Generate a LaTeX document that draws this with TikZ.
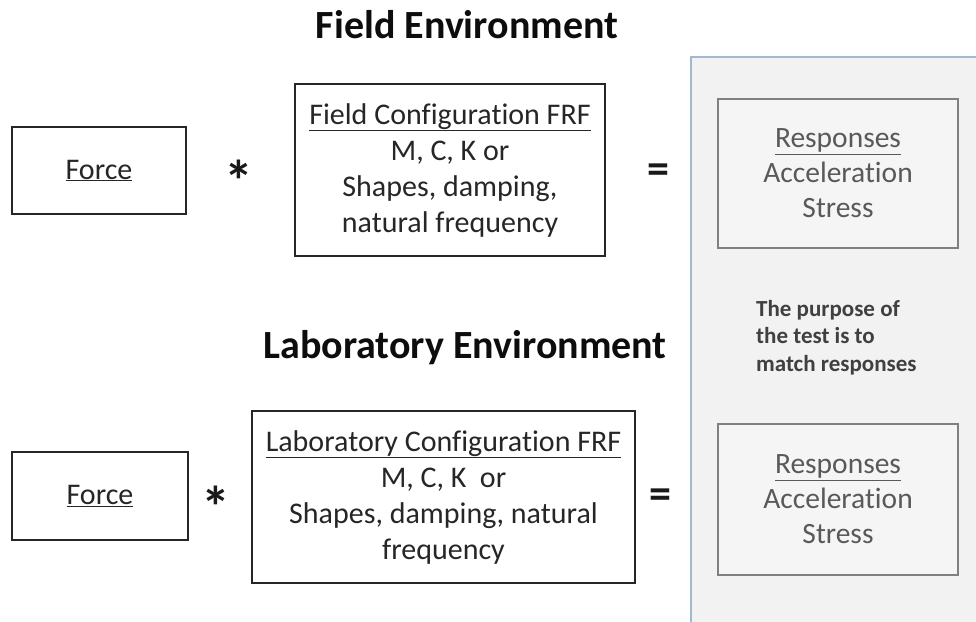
\documentclass[tikz,border=0pt]{standalone}
\usepackage{fontspec}
\setmainfont{Carlito}[Ligatures={NoCommon}]
\begin{document}
\begin{tikzpicture}[x=1pt,y=-1pt,
  box/.style={draw=black!85, line width=1.2pt, inner sep=0pt, align=center, text=black!85,
    font=\fontsize{30}{36}\selectfont},
  respbox/.style={draw=black!50, line width=1.2pt, fill=white!96!black, inner sep=0pt, align=center, text=black!65,
    font=\fontsize{29.5}{35}\selectfont},
  title/.style={anchor=base, font=\bfseries\fontsize{40}{44}\selectfont, text=black!95},
  op/.style={font=\bfseries\fontsize{44}{46}\selectfont, text=black!90, inner sep=0pt},
  ast/.style={font=\bfseries\fontsize{58}{60}\selectfont, text=black!90, inner sep=0pt},
  note/.style={anchor=north west, align=left, inner sep=0pt, text=black!75,
    font=\bfseries\fontsize{23}{27.5}\selectfont}]
\useasboundingbox (0,0) rectangle (976,621);
% right panel
\fill[white!95!black] (691,57) rectangle (980,625);
\draw[color={rgb,255:red,160;green,184;blue,208}, line width=1.5pt] (691,625) -- (691,57) -- (980,57);
% titles
\node[title] (t1) at (467,38) {Field Environment};
\node[title] (t2) at (465,358) {Laboratory Environment};
% field row
\node[box, minimum width=174, minimum height=87] (f1) at (99,170.5) {\underline{Force}};
\node[ast] (s1) at (239,181) {*};
\node[box, minimum width=310, minimum height=172] (c1) at (450,170) {\underline{Field Configuration FRF}\\M, C, K or\\Shapes, damping,\\natural frequency};
\node[op] (e1) at (658,174) {=};
\node[respbox, minimum width=240, minimum height=149] (r1) at (838,173.5) {\underline{Responses}\\Acceleration\\Stress};
% note
\node[note] (n) at (756,300) {The purpose of\\the test is to\\match responses};
% lab row
\node[box, minimum width=176, minimum height=88] (f2) at (100,496) {\underline{Force}};
\node[ast] (s2) at (216,507) {*};
\node[box, minimum width=383, minimum height=172] (c2) at (443.5,497) {\underline{Laboratory Configuration FRF}\\M, C, K\ \ or\\Shapes, damping, natural\\frequency};
\node[op] (e2) at (660,499) {=};
\node[respbox, minimum width=240, minimum height=151] (r2) at (838,499.5) {\underline{Responses}\\Acceleration\\Stress};
\end{tikzpicture}
\end{document}
